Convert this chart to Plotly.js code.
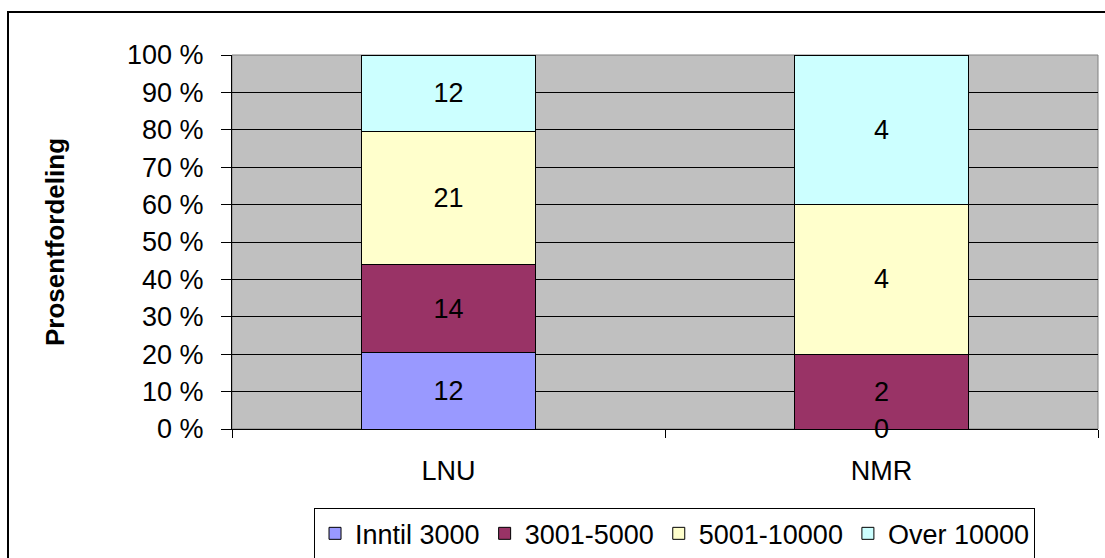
<!DOCTYPE html>
<html>
<head>
<meta charset="utf-8">
<script src="https://cdn.plot.ly/plotly-3.0.1.min.js"></script>
<style>
  html, body { margin: 0; padding: 0; width: 1105px; height: 558px; overflow: hidden; background: #fff; }
  #chart { position: absolute; left: 0; top: 0; width: 1105px; height: 558px; }
  #frame { position: absolute; left: 7px; top: 11px; width: 2000px; height: 2000px;
           border-left: 2px solid #000; border-top: 2px solid #000; pointer-events: none; }
</style>
</head>
<body>
<div id="chart"></div>
<div id="frame"></div>
<script>
// Data
const categories = ["LNU", "NMR"];
const seriesNames = ["Inntil 3000", "3001-5000", "5001-10000", "Over 10000"];
const inntil3000 = [12, 0];
const s3001_5000 = [14, 2];
const s5001_10000 = [21, 4];
const over10000 = [12, 4];
const yTickVals = [0, 10, 20, 30, 40, 50, 60, 70, 80, 90, 100];
const yTitle = "Prosentfordeling";

const colors = ["#9999FF", "#993366", "#FFFFCC", "#CCFFFF"];
const seriesValues = [inntil3000, s3001_5000, s5001_10000, over10000];
const FONT = "Liberation Sans, Arial, sans-serif";
const FS = 27;

const traces = seriesValues.map((vals, i) => ({
  type: "bar",
  name: seriesNames[i],
  x: categories,
  y: vals,
  text: vals.map(v => String(v)),
  textposition: "inside",
  insidetextanchor: "middle",
  textangle: 0,
  constraintext: "none",
  textfont: { family: FONT, size: FS, color: "#000" },
  marker: { color: colors[i], line: { color: "#000", width: 1 } },
  hoverinfo: "skip"
}));

// zero-valued segments are not labelled by the bar trace itself; label them at the base
const annotations = [];
seriesValues.forEach((vals) => {
  vals.forEach((v, j) => {
    if (v === 0) {
      annotations.push({
        x: categories[j], y: 0, xref: "x", yref: "y",
        text: String(v), showarrow: false, yanchor: "middle",
        font: { family: FONT, size: FS, color: "#000" }
      });
    }
  });
});
annotations.push({
  x: 0, y: 0.5, xref: "paper", yref: "paper", xshift: -177,
  text: "<b>" + yTitle + "</b>", textangle: -90, showarrow: false,
  xanchor: "center", yanchor: "middle",
  font: { family: FONT, size: 26, color: "#000" }
});

const layout = {
  width: 1105, height: 558,
  margin: { l: 232, r: 7, t: 55, b: 129, autoexpand: false },
  paper_bgcolor: "rgba(0,0,0,0)",
  plot_bgcolor: "#C0C0C0",
  barmode: "stack",
  barnorm: "percent",
  bargap: 0.596,
  showlegend: true,
  legend: {
    orientation: "h", x: 0.511, xanchor: "center", y: -0.212, yanchor: "top",
    bordercolor: "#000", borderwidth: 1, bgcolor: "#fff",
    font: { family: FONT, size: FS, color: "#000" },
    traceorder: "normal", itemwidth: 30, tracegroupgap: 0
  },
  font: { family: FONT, size: FS, color: "#000" },
  xaxis: {
    type: "category",
    showline: true, linecolor: "#000", linewidth: 1,
    ticks: "outside", tickson: "boundaries", ticklen: 8, tickcolor: "#000", tickwidth: 1,
    ticklabelstandoff: 18,
    showgrid: false, zeroline: false,
    tickfont: { family: FONT, size: FS, color: "#000" }
  },
  yaxis: {
    range: [0, 100],
    tickvals: yTickVals,
    ticktext: yTickVals.map(v => v + " %"),
    showline: true, linecolor: "#000", linewidth: 1,
    ticks: "outside", ticklen: 10, tickcolor: "#000", tickwidth: 1,
    ticklabelstandoff: 12,
    showgrid: true, gridcolor: "#000", gridwidth: 1,
    zeroline: false,
    tickfont: { family: FONT, size: FS, color: "#000" }
  },
  shapes: [{
    type: "rect", xref: "paper", yref: "paper", x0: 0, x1: 1, y0: 0, y1: 1,
    line: { color: "#808080", width: 1 }, layer: "between"
  }],
  annotations: annotations
};

Plotly.newPlot("chart", traces, layout, { staticPlot: true, displayModeBar: false });
</script>
</body>
</html>
